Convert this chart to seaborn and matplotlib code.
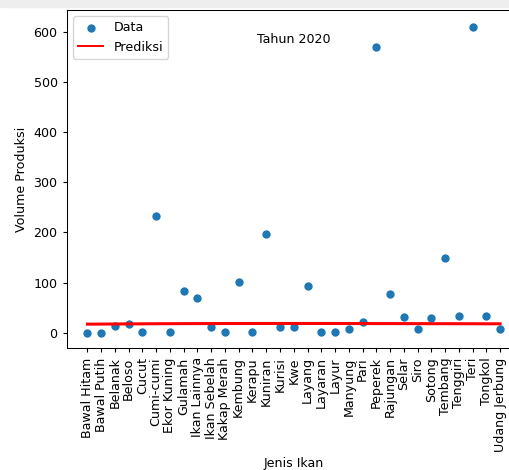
import matplotlib
matplotlib.use("Agg")
import matplotlib.pyplot as plt
import seaborn as sns
import pandas as pd
from matplotlib.patches import Rectangle

# data
jenis_ikan = ["Bawal Hitam", "Bawal Putih", "Belanak", "Beloso", "Cucut",
              "Cumi-cumi", "Ekor Kuning", "Gulamah", "Ikan Lainnya", "Ikan Sebelah",
              "Kakap Merah", "Kembung", "Kerapu", "Kuniran", "Kurisi", "Kwe",
              "Layang", "Layaran", "Layur", "Manyung", "Pari", "Peperek",
              "Rajungan", "Selar", "Siro", "Sotong", "Tembang", "Tenggiri",
              "Teri", "Tongkol", "Udang Jerbung"]
volume = [0, 0, 14, 18, 2, 233, 2, 83, 70, 12, 2, 101, 2, 197, 11, 11,
          94, 2, 2, 8, 21, 570, 77, 31, 7, 29, 150, 34, 610, 33, 7]
prediksi = [17.5, 17.6, 17.8, 18.0, 18.1, 18.3, 18.4, 18.5, 18.6, 18.6,
            18.7, 18.7, 18.8, 18.8, 18.8, 18.8, 18.8, 18.8, 18.8, 18.7,
            18.7, 18.6, 18.6, 18.5, 18.5, 18.4, 18.4, 18.3, 18.3, 18.2, 18.2]

df = pd.DataFrame({"jenis": jenis_ikan, "volume": volume, "prediksi": prediksi})

# ukuran huruf sedikit lebih kecil (gambar referensi diperkecil)
plt.rcParams["font.size"] = 9.1
plt.rcParams["axes.linewidth"] = 0.75
plt.rcParams["xtick.major.size"] = 3.2
plt.rcParams["ytick.major.size"] = 3.2

fig = plt.figure(figsize=(5.1, 4.7), dpi=100)
# strip abu-abu di atas (seperti screenshot)
fig.patches.append(Rectangle((0, 0.985), 1, 0.015, transform=fig.transFigure,
                             color="#eeeeee", zorder=0))
ax = fig.add_axes([0.131, 0.2596, 0.89, 0.719])

sns.scatterplot(data=df, x="jenis", y="volume", ax=ax, color="#1f77b4",
                s=36, linewidth=0, label="Data")
sns.lineplot(data=df, x="jenis", y="prediksi", ax=ax, color="red",
             linewidth=2.2, label="Prediksi")

ax.set_xlim(-1.5, 31.5)
ax.set_ylim(-30, 643)
ax.text(0.5, 0.913, "Tahun 2020", transform=ax.transAxes,
        ha="center", va="center")
ax.set_xlabel("Jenis Ikan")
ax.set_ylabel("Volume Produksi")
ax.tick_params(axis="x", rotation=90)
leg = ax.legend(loc="upper left")
for h in leg.get_lines():
    h.set_linewidth(1.4)

fig.savefig("out.png", dpi=100)
